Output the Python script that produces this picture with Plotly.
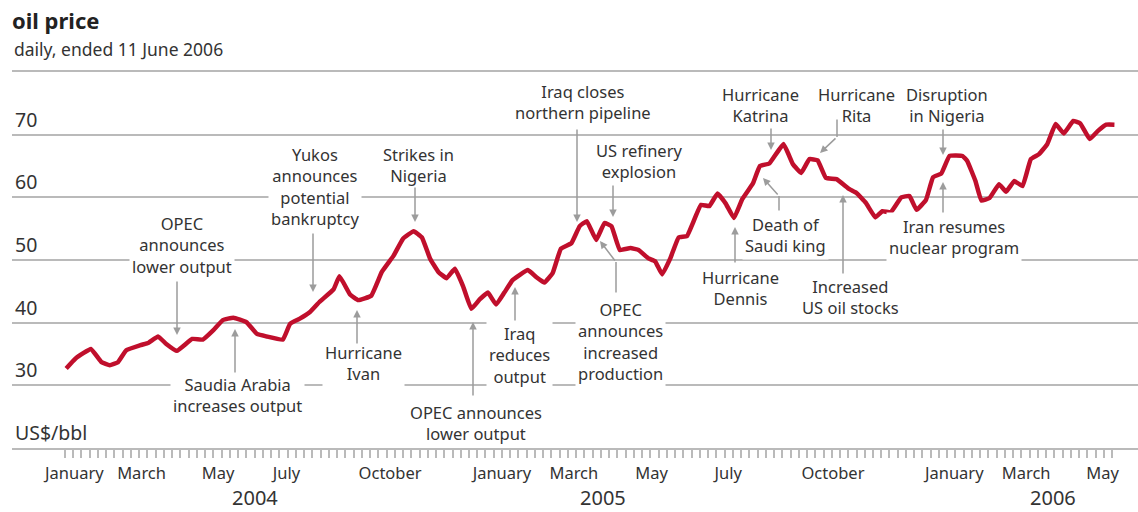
import plotly.graph_objects as go
import pandas as pd

# ---------------- data ----------------
dates = [
    "2004-01-02", "2004-01-10", "2004-01-23", "2004-02-01", "2004-02-08", "2004-02-15",
    "2004-02-22", "2004-03-05", "2004-03-12", "2004-03-20", "2004-03-27", "2004-04-05",
    "2004-04-18", "2004-04-27", "2004-05-06", "2004-05-14", "2004-05-23", "2004-06-03",
    "2004-06-12", "2004-06-20", "2004-07-04", "2004-07-10", "2004-07-18", "2004-07-27",
    "2004-08-04", "2004-08-16", "2004-08-21", "2004-08-30", "2004-09-06", "2004-09-17",
    "2004-09-26", "2004-10-06", "2004-10-14", "2004-10-23", "2004-10-30", "2004-11-06",
    "2004-11-13", "2004-11-20", "2004-11-27", "2004-12-04", "2004-12-11", "2004-12-18",
    "2004-12-25", "2005-01-01", "2005-01-08", "2005-01-15", "2005-01-28", "2005-02-04",
    "2005-02-11", "2005-02-18", "2005-02-25", "2005-03-06", "2005-03-13", "2005-03-19",
    "2005-03-27", "2005-04-03", "2005-04-09", "2005-04-16", "2005-04-25", "2005-05-02",
    "2005-05-10", "2005-05-16", "2005-05-22", "2005-05-29", "2005-06-05", "2005-06-12",
    "2005-06-24", "2005-07-01", "2005-07-08", "2005-07-15", "2005-07-22", "2005-07-29",
    "2005-08-07", "2005-08-13", "2005-08-21", "2005-09-02", "2005-09-10", "2005-09-17",
    "2005-09-24", "2005-10-01", "2005-10-08", "2005-10-17", "2005-10-28", "2005-11-03",
    "2005-11-11", "2005-11-19", "2005-11-25", "2005-12-02", "2005-12-11", "2005-12-18",
    "2005-12-24", "2006-01-01", "2006-01-07", "2006-01-14", "2006-01-21", "2006-02-01",
    "2006-02-05", "2006-02-12", "2006-02-17", "2006-02-24", "2006-03-04", "2006-03-10",
    "2006-03-17", "2006-03-24", "2006-03-31", "2006-04-07", "2006-04-14", "2006-04-21",
    "2006-04-28", "2006-05-06", "2006-05-12", "2006-05-20", "2006-05-27", "2006-06-03",
    "2006-06-10",
]
prices = [
    32.7, 34.3, 35.8, 33.7, 33.2, 33.7,
    35.6, 36.4, 36.8, 37.8, 36.6, 35.5,
    37.4, 37.3, 38.8, 40.4, 40.8, 40.1,
    38.2, 37.8, 37.3, 39.8, 40.6, 41.7,
    43.3, 45.3, 47.4, 44.5, 43.6, 44.3,
    48.1, 50.7, 53.4, 54.6, 53.6, 50.2,
    48.1, 47.1, 48.6, 45.8, 42.2, 43.7,
    44.8, 42.9, 44.8, 46.8, 48.4, 47.3,
    46.4, 47.9, 51.8, 52.7, 55.4, 56.2,
    53.2, 55.9, 55.4, 51.6, 51.9, 51.6,
    50.3, 49.8, 47.7, 50.3, 53.6, 53.8,
    58.8, 58.6, 60.6, 59.0, 56.7, 59.7,
    62.2, 65.0, 65.4, 68.5, 65.3, 63.9,
    66.1, 65.9, 63.1, 62.9, 61.3, 60.7,
    59.1, 56.8, 57.8, 57.6, 60.0, 60.2,
    58.0, 59.6, 63.2, 63.8, 66.6, 66.6,
    65.8, 62.6, 59.5, 59.9, 62.1, 60.9,
    62.6, 61.8, 66.1, 66.9, 68.5, 71.7,
    70.2, 72.2, 71.8, 69.3, 70.6, 71.6,
    71.6,
]

month_tick_dates = ["2004-01-09", "2004-03-06", "2004-05-10", "2004-07-07", "2004-10-03",
                    "2005-01-06", "2005-03-08", "2005-05-13", "2005-07-17", "2005-10-14",
                    "2006-01-25", "2006-03-27", "2006-05-31"]
month_tick_labels = ["January", "March", "May", "July", "October",
                     "January", "March", "May", "July", "October",
                     "January", "March", "May"]
year_labels = ["2004", "2005", "2006"]

y_grid_values = [20, 30, 40, 50, 60, 70, 80]
y_label_values = [20, 30, 40, 50, 60, 70]
y_label_texts = ["US$/bbl", "30", "40", "50", "60", "70"]

events = [
    "OPEC<br>announces<br>lower output",
    "Saudia Arabia<br>increases output",
    "Yukos<br>announces<br>potential<br>bankruptcy",
    "Hurricane<br>Ivan",
    "Strikes in<br>Nigeria",
    "OPEC announces<br>lower output",
    "Iraq<br>reduces<br>output",
    "Iraq closes<br>northern pipeline",
    "US refinery<br>explosion",
    "OPEC<br>announces<br>increased<br>production",
    "Hurricane<br>Dennis",
    "Hurricane<br>Katrina",
    "Death of<br>Saudi king",
    "Hurricane<br>Rita",
    "Increased<br>US oil stocks",
    "Disruption<br>in Nigeria",
    "Iran resumes<br>nuclear program",
]

# weekly minor ticks over the span of the data
week_ticks = pd.date_range("2004-01-01", "2006-06-11", freq="7D").strftime("%Y-%m-%d").tolist()

# ---------------- layout helpers (pixel -> paper) ----------------
W, H = 1138, 512
ML, MR, MT, MB = 12, 0, 72, 64
PW, PH = W - ML - MR, H - MT - MB


def PX(x):
    return (x - ML) / PW


def PY(y):
    return (H - MB - y) / PH


FONT = "Noto Sans"
TXT = "#333333"
GRID = "#bababa"
ARROW = "#9c9c9c"
RED = "#c00f2c"

fig = go.Figure()
fig.add_trace(go.Scatter(
    x=dates, y=prices, mode="lines",
    line=dict(color=RED, width=4.5, shape="spline", smoothing=0.3),
    hoverinfo="x+y", showlegend=False,
))

# event text positions (centre, pixels)
text_pos = [
    (182, 245), (237, 395), (315, 186), (363, 363), (418, 165), (476, 423),
    (519, 355), (583, 102), (639, 161), (620, 341), (740, 288), (760, 105),
    (785, 235), (856, 105), (850, 297), (947, 105), (954, 237),
]
annotations = []
for txt, (cx, cy) in zip(events, text_pos):
    annotations.append(dict(
        text=txt, x=PX(cx), y=PY(cy), xref="paper", yref="paper",
        xanchor="center", yanchor="middle", showarrow=False,
        font=dict(family=FONT, size=16.5, color=TXT), bgcolor="white", borderpad=2,
    ))

# arrows: (tail_x, tail_y, tip_x, tip_y, head)
arrows = [
    (177, 280, 177, 335, True),
    (235, 374, 235, 329, True),
    (313, 232, 313, 292, True),
    (357, 345, 357, 310, True),
    (415, 186, 415, 222, True),
    (473, 397, 473, 322, True),
    (515, 322, 515, 287, True),
    (577, 128, 577, 222, True),
    (613, 184, 613, 217, True),
    (616, 294, 616, 262, False),
    (616, 262, 600, 241, True),
    (735, 264, 735, 227, True),
    (771, 127, 771, 150, True),
    (779, 212, 779, 196, False),
    (779, 196, 763, 178, True),
    (837, 118, 837, 137, False),
    (837, 137, 820, 153, True),
    (843, 275, 843, 195, True),
    (943, 128, 943, 155, True),
    (943, 214, 943, 182, True),
]
for tx, ty, hx, hy, head in arrows:
    annotations.append(dict(
        text="", x=PX(hx), y=PY(hy), xref="paper", yref="paper",
        ax=tx - hx, ay=ty - hy, axref="pixel", ayref="pixel",
        showarrow=True, arrowhead=2 if head else 0, arrowsize=1.0,
        arrowwidth=1.5, arrowcolor=ARROW, standoff=0, startstandoff=0,
    ))

# y-axis value labels sitting on their gridlines
for v, t in zip(y_label_values, y_label_texts):
    annotations.append(dict(
        text=t, x=PX(13), y=v, xref="paper", yref="y",
        xanchor="left", yanchor="bottom", yshift=0, showarrow=False,
        font=dict(family=FONT, size=19.5, color=TXT),
    ))

# year labels
for lab, cx in zip(year_labels, [255, 603, 1053]):
    annotations.append(dict(
        text=lab, x=PX(cx), y=PY(497), xref="paper", yref="paper",
        xanchor="center", yanchor="middle", showarrow=False,
        font=dict(family=FONT, size=20, color=TXT),
    ))

# subtitle
annotations.append(dict(
    text="daily, ended 11 June 2006", x=PX(12), y=PY(49), xref="paper", yref="paper",
    xanchor="left", yanchor="middle", showarrow=False,
    font=dict(family=FONT, size=17.5, color=TXT),
))

fig.update_layout(
    width=W, height=H,
    margin=dict(l=ML, r=MR, t=MT, b=MB, pad=0),
    paper_bgcolor="white", plot_bgcolor="white",
    title=dict(text="<b>oil price</b>", x=12 / W, xref="container", xanchor="left",
               y=1 - 21 / H, yref="container", yanchor="middle",
               font=dict(family=FONT, size=22, color="#222222")),
    annotations=annotations,
    xaxis=dict(
        type="date", range=["2003-11-17", "2006-06-30"],
        tickmode="array", tickvals=month_tick_dates, ticktext=month_tick_labels,
        ticks="outside", ticklen=9, tickcolor="rgba(0,0,0,0)",
        tickfont=dict(family=FONT, size=16.5, color=TXT),
        showgrid=False, zeroline=False,
        showline=True, linecolor=GRID, linewidth=2, mirror=True,
        minor=dict(tickmode="array", tickvals=week_ticks,
                   ticks="outside", ticklen=8, tickcolor=GRID, tickwidth=1.5,
                   showgrid=False),
        fixedrange=True,
    ),
    yaxis=dict(
        range=[20, 80], tickmode="array", tickvals=y_grid_values,
        showticklabels=False, ticks="",
        showgrid=True, gridcolor=GRID, gridwidth=1.8,
        zeroline=False, showline=False, fixedrange=True,
    ),
)

fig.write_html("out.html", config={"displayModeBar": False},
               post_script="document.body.style.margin='0';")
